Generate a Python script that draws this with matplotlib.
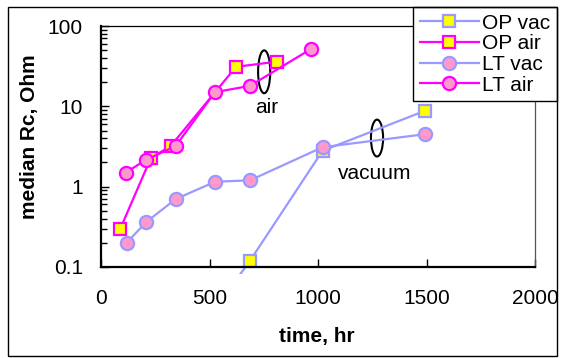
import numpy as np
import matplotlib
matplotlib.use('Agg')
import matplotlib.pyplot as plt
from matplotlib.patches import Ellipse, Rectangle
from matplotlib.ticker import FixedLocator, LogLocator, NullFormatter, FuncFormatter

# median contact resistance vs. exposure time
op_vac_t = [525, 687, 1021, 1493]
op_vac_r = [0.03, 0.12, 2.8, 8.8]
op_air_t = [89, 230, 321, 622, 810]
op_air_r = [0.3, 2.28, 3.2, 31, 36]
lt_vac_t = [118, 207, 344, 525, 687, 1021, 1493]
lt_vac_r = [0.2, 0.36, 0.70, 1.15, 1.2, 3.1, 4.5]
lt_air_t = [115, 206, 344, 525, 687, 969]
lt_air_r = [1.5, 2.15, 3.2, 15, 18, 52]

x_ticks = [0, 500, 1000, 1500, 2000]
y_ticks = [0.1, 1, 10, 100]

MAG = '#FF00FF'
BLUE = '#9999FF'
PINK = '#FF99CC'
YEL = '#FFFF00'

plt.rcParams['font.family'] = ['Liberation Sans', 'DejaVu Sans']
plt.rcParams['font.size'] = 15

W, H = 561, 358
fig = plt.figure(figsize=(W / 100, H / 100), dpi=100)
ax = fig.add_axes([101 / W, 1 - 267 / H, 434 / W, 241 / H])

# outer chart border
fig.patches.append(Rectangle((8 / W, 1 - 356 / H), 549 / W, 349 / H,
                             transform=fig.transFigure, fill=False,
                             edgecolor='black', lw=1.0, zorder=0))

clip = Rectangle((0, -0.03), 1, 1.03, transform=ax.transAxes, visible=False)
ax.add_patch(clip)

series = [
    (op_vac_t, op_vac_r, 's', BLUE, YEL, 'OP vac'),
    (op_air_t, op_air_r, 's', MAG, YEL, 'OP air'),
    (lt_vac_t, lt_vac_r, 'o', BLUE, PINK, 'LT vac'),
    (lt_air_t, lt_air_r, 'o', MAG, PINK, 'LT air'),
]
for t, r, mk, ec, fc, lab in series:
    line, = ax.plot(t, r, color=ec, lw=1.6, marker=mk, markersize=9.5 if mk == 'o' else 9,
                    markerfacecolor=fc, markeredgecolor=ec, markeredgewidth=1.6,
                    label=lab)
    line.set_clip_path(clip)

ax.set_yscale('log')
ax.set_xlim(0, 2000)
ax.set_ylim(0.1, 100)
ax.xaxis.set_major_locator(FixedLocator(x_ticks))
ax.yaxis.set_major_locator(FixedLocator(y_ticks))
ax.yaxis.set_minor_locator(LogLocator(base=10, subs=np.arange(2, 10)))
ax.yaxis.set_minor_formatter(NullFormatter())
ax.yaxis.set_major_formatter(FuncFormatter(lambda v, p: '%g' % v))
ax.tick_params(axis='x', which='both', direction='in', length=6, width=1, pad=16)
ax.tick_params(axis='y', which='major', direction='in', length=6, width=1, pad=13)
ax.tick_params(axis='y', which='minor', direction='in', length=4, width=1)
ax.tick_params(top=False, right=False)

ax.spines['left'].set_linewidth(1.6)
ax.spines['bottom'].set_linewidth(1.6)
ax.spines['top'].set_linewidth(0.9)
ax.spines['right'].set_linewidth(0.9)
ax.spines['right'].set_color('#555555')

ax.set_xlabel('time, hr', fontweight='bold')
ax.xaxis.set_label_coords(0.498, -0.29)
ax.xaxis.label.set_va('center')
ax.set_ylabel('median Rc, Ohm', fontweight='bold')
ax.yaxis.set_label_coords(-0.164, 0.54)
ax.yaxis.label.set_va('center')

# group markers
ax.add_patch(Ellipse((0.376, 0.81), 0.028, 0.178, transform=ax.transAxes,
                     fill=False, edgecolor='black', lw=1.5))
ax.text(0.382, 0.66, 'air', transform=ax.transAxes, ha='center', va='center')
ax.add_patch(Ellipse((0.636, 0.535), 0.028, 0.153, transform=ax.transAxes,
                     fill=False, edgecolor='black', lw=1.5))
ax.text(0.631, 0.39, 'vacuum', transform=ax.transAxes, ha='center', va='center')

leg = ax.legend(loc='upper right', bbox_to_anchor=(557 / W, 1 - 7 / H),
                bbox_transform=fig.transFigure, borderaxespad=0, fancybox=False,
                framealpha=1, edgecolor='black', handlelength=2.85,
                handletextpad=0.15, labelspacing=0.08, borderpad=0.32)
leg.get_frame().set_linewidth(1.0)

fig.savefig('out.png', dpi=100)
